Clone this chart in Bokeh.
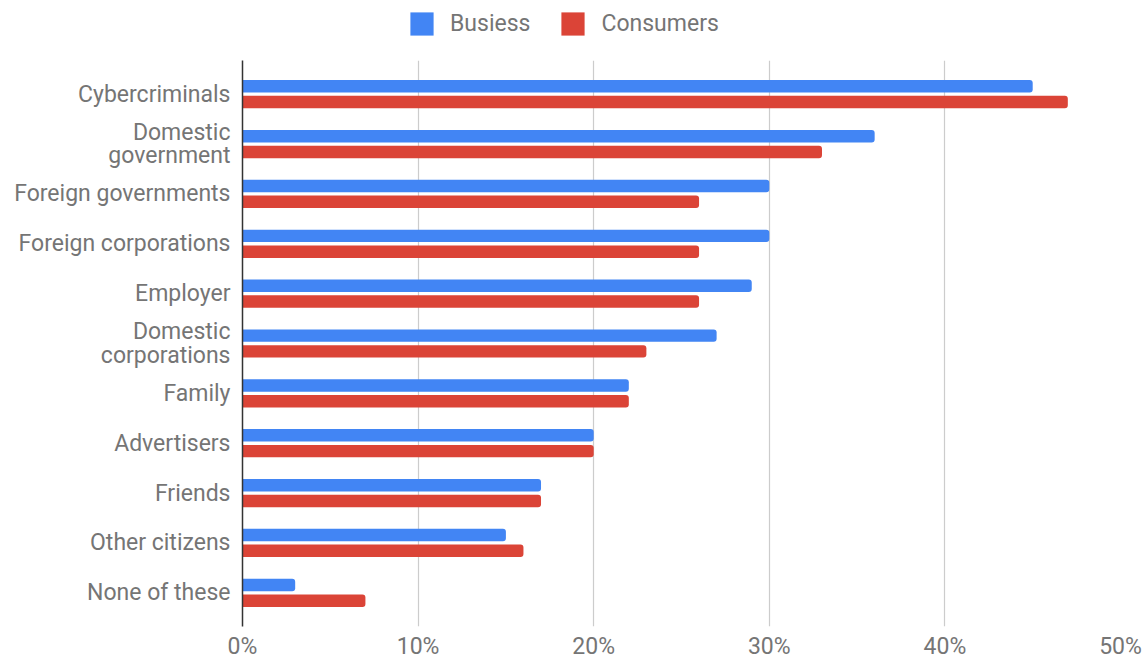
from bokeh.plotting import figure
from bokeh.layouts import column
from bokeh.models import FactorRange, Range1d, FixedTicker, PrintfTickFormatter, Legend, LegendItem
from bokeh.transform import dodge
from bokeh.embed import file_html
from bokeh.resources import INLINE

categories = ["Cybercriminals", "Domestic\ngovernment", "Foreign governments",
              "Foreign corporations", "Employer", "Domestic\ncorporations",
              "Family", "Advertisers", "Friends", "Other citizens", "None of these"]
business = [45, 36, 30, 30, 29, 27, 22, 20, 17, 15, 3]
consumers = [47, 33, 26, 26, 26, 23, 22, 20, 17, 16, 7]
x_ticks = [0, 10, 20, 30, 40, 50]
series_names = ["Busiess", "Consumers"]

BLUE = "#4285F4"
RED = "#DB4437"
GRAY = "#757575"
FONT = "Roboto"
FS = "23px"

src = dict(cat=categories, business=business, consumers=consumers)

p = figure(frame_width=878, frame_height=566, output_backend="svg", toolbar_location=None,
           y_range=FactorRange(factors=list(reversed(categories)),
                               range_padding=0.175, range_padding_units="absolute"),
           x_range=Range1d(0, 50),
           min_border_left=242, min_border_right=28, min_border_bottom=20, min_border_top=0)
p.outline_line_color = None

rb = p.hbar(y=dodge("cat", 0.158, range=p.y_range), right="business", left=0, height=0.25,
            fill_color=BLUE, line_color=None, border_radius=(0, 3, 3, 0), source=src)
rc = p.hbar(y=dodge("cat", -0.158, range=p.y_range), right="consumers", left=0, height=0.25,
            fill_color=RED, line_color=None, border_radius=(0, 3, 3, 0), source=src)

p.xaxis.ticker = FixedTicker(ticks=x_ticks)
p.xaxis.formatter = PrintfTickFormatter(format="%d%%")
p.xaxis.axis_line_color = None
p.xaxis.major_tick_line_color = None
p.xaxis.minor_tick_line_color = None
p.xaxis.major_tick_out = 0
p.xaxis.major_tick_in = 0
p.xaxis.major_label_text_font = FONT
p.xaxis.major_label_text_font_size = FS
p.xaxis.major_label_text_color = GRAY
p.xaxis.major_label_standoff = 6

p.yaxis.axis_line_color = "#333333"
p.yaxis.axis_line_width = 1.5
p.yaxis.major_tick_line_color = None
p.yaxis.minor_tick_line_color = None
p.yaxis.major_label_text_font = FONT
p.yaxis.major_label_text_font_size = FS
p.yaxis.major_label_text_color = GRAY
p.yaxis.major_label_text_line_height = 0.88
p.yaxis.major_label_standoff = 6

p.xgrid.grid_line_color = "#cccccc"
p.xgrid.grid_line_width = 1.2
p.ygrid.grid_line_color = None

# legend strip above the chart (its frame is aligned with the chart frame by the column)
lf = figure(width=1148, height=60, output_backend="svg", toolbar_location=None,
            x_range=Range1d(0, 1), y_range=FactorRange(factors=categories),
            min_border_left=0, min_border_right=0, min_border_top=0, min_border_bottom=0)
lf.axis.visible = False
lf.grid.visible = False
lf.outline_line_color = None
lb = lf.hbar(y="cat", right="business", left=0, height=0.5, fill_color=BLUE, line_color=None,
             border_radius=3, source=src, visible=False)
lc = lf.hbar(y="cat", right="consumers", left=0, height=0.5, fill_color=RED, line_color=None,
             border_radius=3, source=src, visible=False)
legend = Legend(items=[LegendItem(label=series_names[0], renderers=[lb]),
                       LegendItem(label=series_names[1], renderers=[lc])],
                orientation="horizontal", location=(165, 22))
legend.label_text_font = FONT
legend.label_text_font_size = FS
legend.label_text_color = GRAY
legend.glyph_width = 29
legend.glyph_height = 29
legend.label_standoff = 14
legend.spacing = 28
legend.border_line_color = None
legend.background_fill_alpha = 0
legend.inactive_fill_alpha = 0
legend.padding = 0
legend.margin = 0
lf.add_layout(legend, "center")

layout = column(lf, p, spacing=0)
open("out.html", "w").write(file_html(layout, INLINE))
